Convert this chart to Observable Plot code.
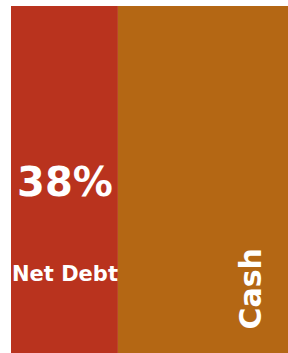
<!DOCTYPE html>
<html>
<head>
<meta charset="utf-8">
<script src="https://cdn.jsdelivr.net/npm/d3@7"></script>
<script src="https://cdn.jsdelivr.net/npm/@observablehq/plot@0.6"></script>
<style>
  html, body { margin: 0; padding: 0; background: #fff; }
  #chart svg { display: block; }
</style>
</head>
<body>
<div id="chart"></div>
<script>
const names = ["Net Debt", "Cash"];
const values = [38.6, 61.4];
const shareLabels = ["38%", "62%"];
const colors = ["#B9331E", "#B46714"];

const data = names.map((name, i) => ({name, value: values[i], label: shareLabels[i]}));
const font = "DejaVu Sans, Verdana, sans-serif";

const chart = Plot.plot({
  width: 288,
  height: 353,
  marginLeft: 11,
  marginRight: 0,
  marginTop: 6,
  marginBottom: 0,
  x: {domain: [0, 100], axis: null},
  color: {domain: names, range: colors},
  style: {fontFamily: font},
  marks: [
    Plot.barX(data, Plot.stackX({x: "value", fill: "name", order: null})),
    Plot.text(data.filter(d => d.name === "Net Debt"), Plot.stackX({
      x: "value", order: null,
      text: "label",
      fill: "white", fontSize: 40, fontWeight: "bold",
      frameAnchor: "middle", dy: 3
    })),
    Plot.text(data.filter(d => d.name === "Net Debt"), Plot.stackX({
      x: "value", order: null,
      text: "name",
      fill: "white", fontSize: 21, fontWeight: "bold",
      frameAnchor: "middle", dy: 94
    })),
    Plot.text(data.filter(d => d.name === "Cash"), {
      text: "name",
      fill: "white", fontSize: 30, fontWeight: "bold",
      rotate: -90, textAnchor: "start",
      frameAnchor: "bottom-right", dx: -28, dy: -24
    })
  ]
});
document.getElementById("chart").append(chart);
</script>
</body>
</html>
